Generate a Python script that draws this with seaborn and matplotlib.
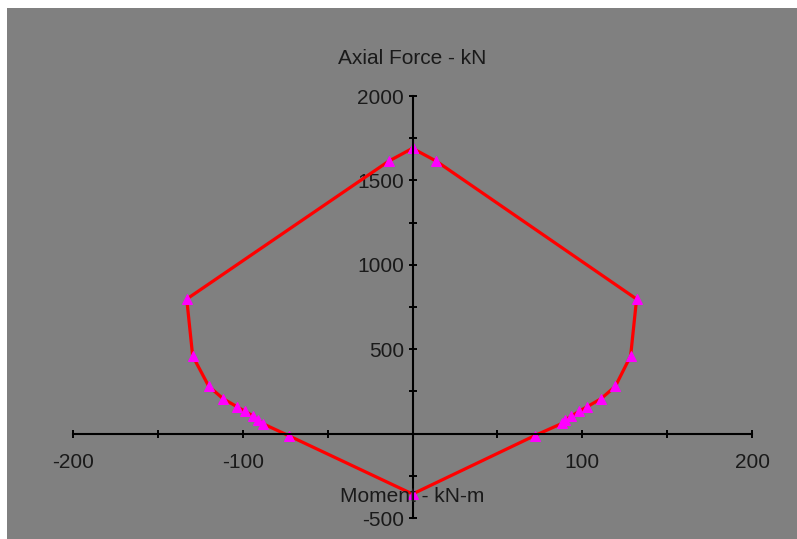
import matplotlib
matplotlib.use("Agg")
import matplotlib.pyplot as plt
from matplotlib.patches import Rectangle
from matplotlib.ticker import MultipleLocator
import seaborn as sns
import pandas as pd

# Interaction diagram points (moment, axial force), traced around the curve
moment_knm = [0, 14, 132, 128.5, 119.5, 111, 103, 98, 93.5, 90, 88, 72, 0,
              -73, -88, -91, -94, -98.5, -103.5, -111.5, -120, -129.5, -133, -14, 0]
axial_kn = [1690, 1614, 797, 460, 280, 206, 160, 131, 103, 81, 60, -12, -358,
            -12, 58, 81, 105, 131, 160, 206, 280, 460, 797, 1614, 1690]

x_ticks = [-200, -100, 100, 200]
y_ticks = [-500, 500, 1000, 1500, 2000]

sns.set_style("white")
plt.rcParams["font.family"] = ["Liberation Sans", "DejaVu Sans"]

df = pd.DataFrame({"Moment": moment_knm, "Axial": axial_kn})

fig = plt.figure(figsize=(7.97, 5.39), dpi=100, facecolor="white")
fig.add_artist(Rectangle((7 / 797, 0), 1 - 7 / 797, (539 - 8) / 539,
                         transform=fig.transFigure, facecolor="#808080",
                         edgecolor="none", zorder=0))

ax = fig.add_axes([73 / 797, 21 / 539, (752 - 73) / 797, (518 - 96) / 539])
ax.set_facecolor("none")

sns.lineplot(data=df, x="Moment", y="Axial", sort=False, estimator=None, ax=ax,
             color="#ff0000", linewidth=2.3, marker="^", markersize=7,
             markerfacecolor="#ff00ff", markeredgecolor="#ff00ff")

ax.set_xlim(-200, 200)
ax.set_ylim(-500, 2000)

for side in ("top", "right"):
    ax.spines[side].set_visible(False)
for side in ("left", "bottom"):
    ax.spines[side].set_position(("data", 0))
    ax.spines[side].set_color("black")
    ax.spines[side].set_linewidth(1.5)

ax.set_xticks(x_ticks)
ax.set_xticklabels([str(v) for v in x_ticks])
ax.set_yticks(y_ticks)
ax.set_yticklabels([str(v) for v in y_ticks])
ax.xaxis.set_minor_locator(MultipleLocator(50))
ax.yaxis.set_minor_locator(MultipleLocator(250))

ax.tick_params(axis="both", which="both", direction="inout", length=6,
               width=1.4, color="black", labelcolor="#1a1a1a", labelsize=15,
               bottom=True, left=True, top=False, right=False)
ax.tick_params(axis="x", which="both", pad=11)
ax.tick_params(axis="y", which="both", pad=3)
ax.tick_params(which="minor", labelleft=False, labelbottom=False)

ax.set_xlabel("")
ax.set_ylabel("")

fig.text(412 / 797, 1 - 58 / 539, "Axial Force - kN", ha="center", va="center",
         fontsize=15, color="#1a1a1a")
fig.text(412 / 797, 1 - 497 / 539, "Moment - kN-m", ha="center", va="center",
         fontsize=15, color="#1a1a1a")

fig.savefig("out.png", dpi=100, facecolor=fig.get_facecolor())
